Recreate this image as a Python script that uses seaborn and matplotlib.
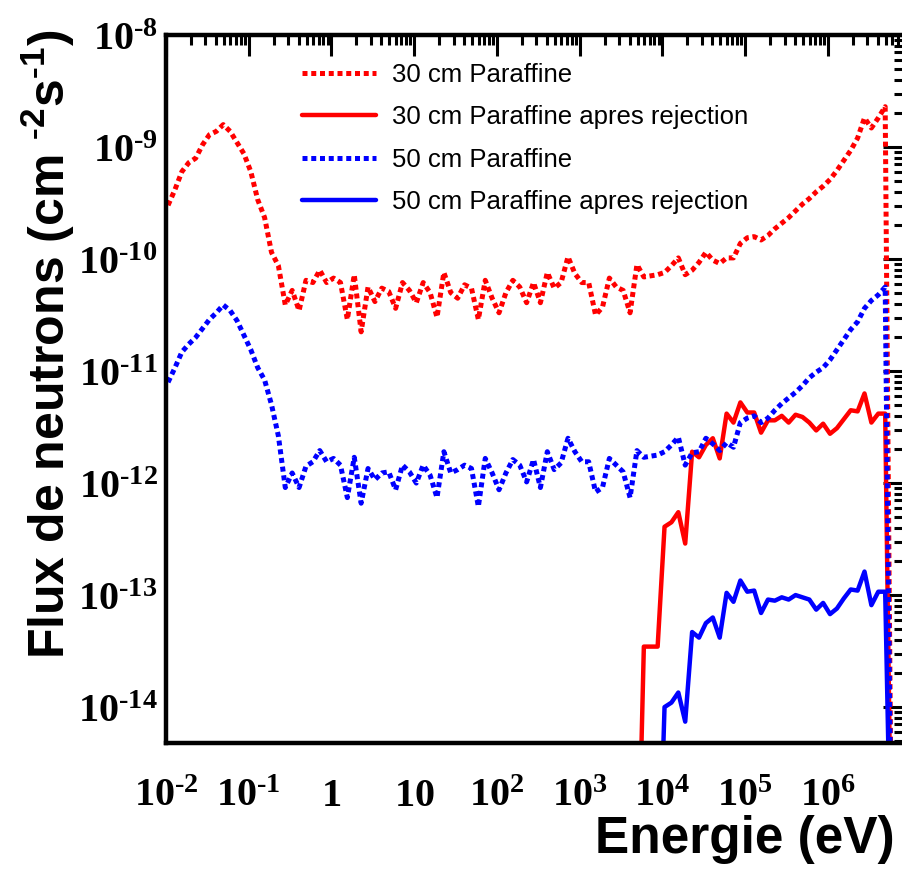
import numpy as np
import pandas as pd
import matplotlib
matplotlib.use("Agg")
import matplotlib.pyplot as plt
import seaborn as sns
from matplotlib import font_manager
from matplotlib.ticker import FixedLocator, FixedFormatter, LogLocator, NullFormatter

# energy bins: 12 per decade (log10 of bin centre in eV)
first_log_e = -1.975
bins_per_decade = 12

# log10 of the flux (cm^-2 s^-1); -16 = off scale
flux_30 = [-9.52, -9.38, -9.22, -9.14, -9.10, -8.98, -8.89, -8.86, -8.80, -8.86,
           -8.96, -9.06, -9.22, -9.47, -9.63, -9.94, -10.06, -10.41, -10.28, -10.46,
           -10.19, -10.21, -10.10, -10.21, -10.17, -10.21, -10.54, -10.14, -10.65, -10.25,
           -10.38, -10.26, -10.29, -10.44, -10.21, -10.28, -10.39, -10.21, -10.30, -10.52,
           -10.12, -10.30, -10.35, -10.23, -10.26, -10.54, -10.19, -10.35, -10.48, -10.30,
           -10.19, -10.25, -10.39, -10.21, -10.39, -10.12, -10.26, -10.21, -9.98, -10.13,
           -10.21, -10.21, -10.50, -10.43, -10.17, -10.25, -10.28, -10.48, -10.05, -10.16,
           -10.15, -10.14, -10.12, -10.06, -9.99, -10.14, -10.10, -10.03, -9.94, -10.01,
           -10.04, -9.99, -9.99, -9.86, -9.81, -9.80, -9.83, -9.79, -9.73, -9.68,
           -9.63, -9.57, -9.51, -9.46, -9.40, -9.35, -9.29, -9.21, -9.12, -9.03,
           -8.92, -8.74, -8.83, -8.74, -8.64, -16.0]

flux_50 = [-11.10, -10.97, -10.83, -10.76, -10.70, -10.62, -10.54, -10.48, -10.41, -10.46,
           -10.55, -10.68, -10.81, -10.97, -11.08, -11.30, -11.58, -12.04, -11.91, -12.04,
           -11.85, -11.81, -11.71, -11.81, -11.78, -11.84, -12.13, -11.77, -12.18, -11.87,
           -11.97, -11.91, -11.90, -12.06, -11.84, -11.90, -12.00, -11.84, -11.93, -12.13,
           -11.72, -11.91, -11.88, -11.84, -11.87, -12.21, -11.78, -11.91, -12.06, -11.91,
           -11.79, -11.84, -11.99, -11.79, -12.04, -11.72, -11.88, -11.82, -11.60, -11.72,
           -11.81, -11.81, -12.08, -12.04, -11.78, -11.84, -11.90, -12.13, -11.71, -11.77,
           -11.76, -11.75, -11.72, -11.66, -11.59, -11.84, -11.73, -11.72, -11.60, -11.65,
           -11.71, -11.64, -11.68, -11.46, -11.42, -11.40, -11.46, -11.42, -11.35, -11.29,
           -11.24, -11.19, -11.13, -11.06, -11.01, -10.97, -10.90, -10.81, -10.72, -10.63,
           -10.56, -10.44, -10.37, -10.32, -10.25, -16.0]

# after rejection: only the upper bins survive
rej_30_first_bin = 68
flux_30_rej = [-16.0, -13.46, -13.46, -13.46, -12.39, -12.35, -12.26, -12.54, -11.72, -11.77,
               -11.66, -11.60, -11.78, -11.38, -11.46, -11.28, -11.37, -11.37, -11.55, -11.44,
               -11.44, -11.40, -11.46, -11.39, -11.41, -11.46, -11.53, -11.47, -11.56, -11.51,
               -11.43, -11.35, -11.36, -11.20, -11.46, -11.38, -11.38, -16.0]

rej_50_first_bin = 71
flux_50_rej = [-16.0, -14.00, -13.96, -13.87, -14.13, -13.33, -13.38, -13.25, -13.20, -13.38,
               -12.98, -13.06, -12.87, -12.97, -12.96, -13.16, -13.04, -13.05, -13.02, -13.04,
               -13.00, -13.02, -13.04, -13.13, -13.07, -13.17, -13.12, -13.03, -12.95, -12.96,
               -12.79, -13.09, -12.97, -12.97, -16.0]

labels = ["30 cm Paraffine", "30 cm Paraffine apres rejection",
          "50 cm Paraffine", "50 cm Paraffine apres rejection"]
x_ticks = [1e-2, 1e-1, 1, 10, 1e2, 1e3, 1e4, 1e5, 1e6]
x_ticklabels = ["10^{-2}", "10^{-1}", "1", "10", "10^{2}", "10^{3}", "10^{4}", "10^{5}", "10^{6}"]
y_ticks = [1e-14, 1e-13, 1e-12, 1e-11, 1e-10, 1e-9, 1e-8]
y_ticklabels = ["10^{-14}", "10^{-13}", "10^{-12}", "10^{-11}", "10^{-10}", "10^{-9}", "10^{-8}"]


def build_frame():
    rows = []
    series = [(labels[0], 0, flux_30), (labels[1], rej_30_first_bin, flux_30_rej),
              (labels[2], 0, flux_50), (labels[3], rej_50_first_bin, flux_50_rej)]
    for name, start, vals in series:
        for k, v in enumerate(vals):
            log_e = first_log_e + (start + k) / bins_per_decade
            rows.append({"serie": name, "energie": 10 ** log_e, "flux": 10 ** v})
    return pd.DataFrame(rows)


def math_label(txt):
    # ROOT writes the exponent sign as a short hyphen
    return r"$\mathrm{%s}$" % txt.replace("-", r"\text{-}")


sns.set_style("white")
names = {f.name for f in font_manager.fontManager.ttflist}
sans = "Liberation Sans" if "Liberation Sans" in names else "DejaVu Sans"
serif = "Liberation Serif" if "Liberation Serif" in names else "DejaVu Serif"
plt.rcParams["font.family"] = [sans, "DejaVu Sans"]
plt.rcParams["mathtext.fontset"] = "custom"
plt.rcParams["mathtext.rm"] = serif + ":bold"
plt.rcParams["mathtext.bf"] = serif + ":bold"
plt.rcParams["mathtext.sf"] = sans + ":bold"
for key in ["text.color", "axes.labelcolor", "xtick.color", "ytick.color"]:
    plt.rcParams[key] = "black"

df = build_frame()

fig = plt.figure(figsize=(9.03, 8.69), dpi=100)
ax = fig.add_axes([166 / 903, 126 / 869, 738 / 903, 708 / 869])

styles = {
    labels[0]: ("#ff0000", (0, (1.0, 0.75)), 3.6),
    labels[1]: ("#ff0000", "-", 3.2),
    labels[2]: ("#0000ff", (0, (1.0, 0.75)), 3.6),
    labels[3]: ("#0000ff", "-", 3.2),
}
for name in labels:
    color, ls, lw = styles[name]
    sub = df[df["serie"] == name]
    sns.lineplot(data=sub, x="energie", y="flux", ax=ax, color=color,
                 linestyle=ls, linewidth=lw, label=name,
                 estimator=None, sort=False)

ax.set_xscale("log")
ax.set_yscale("log")
ax.set_xlim(1e-2, 8.3e6)
ax.set_ylim(4.78e-15, 1e-8)

ax.xaxis.set_major_locator(FixedLocator(x_ticks))
ax.xaxis.set_major_formatter(FixedFormatter([math_label(t) for t in x_ticklabels]))
ax.yaxis.set_major_locator(FixedLocator(y_ticks))
ax.yaxis.set_major_formatter(FixedFormatter([math_label(t) for t in y_ticklabels]))
for axis in (ax.xaxis, ax.yaxis):
    axis.set_minor_locator(LogLocator(base=10, subs=np.arange(2, 10), numticks=30))
    axis.set_minor_formatter(NullFormatter())

ax.tick_params(which="both", direction="in", top=True, right=True, width=2.2)
ax.tick_params(which="major", length=15, labelsize=29)
ax.tick_params(which="minor", length=7.5)
ax.tick_params(axis="x", which="major", pad=24)
ax.tick_params(axis="y", which="major", pad=6)
for sp in ax.spines.values():
    sp.set_linewidth(3.2)
    sp.set_color("black")

ax.set_xlabel("")
ax.set_ylabel("")
fig.text(895 / 903, 1 - 840 / 869, "Energie (eV)", ha="right", va="center",
         fontsize=37, fontweight="bold", family=[sans])
fig.text(48 / 903, 1 - 30 / 869,
         r"Flux de neutrons (cm $^{\mathsf{\text{-}2}}$s$^{\mathsf{\text{-}1}}$)",
         rotation=90, ha="center", va="top", fontsize=36, fontweight="bold", family=[sans])

leg = ax.legend(loc="upper left", bbox_to_anchor=(0.17, 0.975), frameon=False,
                fontsize=18.5, handlelength=2.9, handletextpad=0.6, labelspacing=0.72,
                borderaxespad=0)

fig.savefig("out.png", dpi=100)
